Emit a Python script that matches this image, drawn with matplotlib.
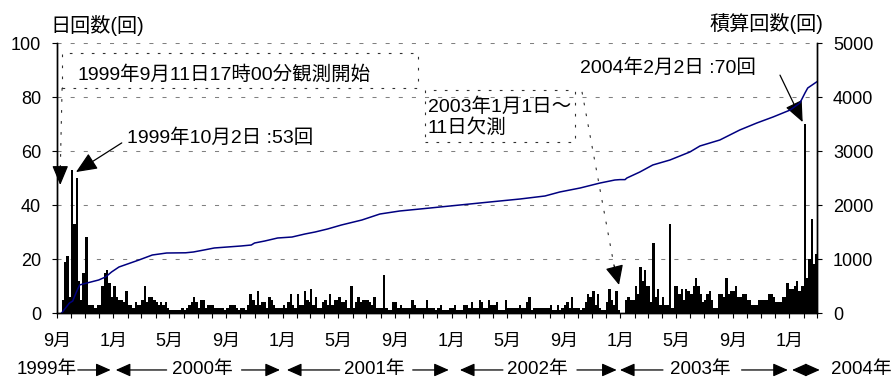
import datetime as dt
import matplotlib
matplotlib.use('Agg')
import matplotlib.pyplot as plt
import matplotlib.dates as mdates
from matplotlib.patches import Rectangle

plt.rcParams['font.family'] = ['Liberation Sans', 'Noto Sans CJK JP']


def d(y, m, day):
    return mdates.date2num(dt.date(y, m, day))


# daily counts, one value per 5-day bin (1-5, 6-10, 11-15, 16-20, 21-25, 26-end)
counts_1999 = [  # Sep - Dec
    0, 0, 5, 19, 21, 6,
    53, 33, 50, 12, 5, 15,
    28, 3, 3, 3, 2, 3,
    3, 10, 15, 16, 11, 6,
]
counts_2000 = [
    10, 6, 5, 5, 4, 8,
    3, 3, 2, 4, 3, 3,
    5, 10, 4, 6, 6, 5,
    4, 3, 4, 3, 4, 2,
    1, 1, 1, 1, 1, 2,
    1, 2, 3, 4, 6, 4,
    2, 5, 5, 2, 3, 3,
    3, 2, 2, 2, 2, 1,
    2, 3, 3, 3, 2, 1,
    2, 2, 1, 3, 7, 5,
    3, 8, 3, 4, 4, 2,
    6, 5, 3, 2, 2, 2,
]
counts_2001 = [
    3, 2, 4, 7, 3, 2,
    7, 3, 3, 8, 5, 4,
    9, 3, 6, 2, 2, 4,
    5, 3, 7, 3, 5, 5,
    6, 4, 4, 5, 2, 10,
    2, 4, 6, 4, 5, 5,
    5, 4, 3, 6, 2, 2,
    2, 14, 2, 1, 1, 4,
    4, 2, 3, 2, 2, 2,
    2, 5, 3, 2, 2, 2,
    2, 5, 2, 2, 2, 1,
    2, 3, 1, 1, 1, 2,
]
counts_2002 = [
    2, 3, 1, 1, 1, 3,
    3, 2, 4, 2, 2, 2,
    5, 4, 2, 2, 5, 3,
    3, 4, 1, 1, 1, 5,
    2, 2, 2, 2, 2, 3,
    2, 2, 4, 6, 1, 2,
    2, 2, 2, 2, 2, 2,
    3, 1, 1, 3, 1, 2,
    3, 4, 2, 6, 2, 2,
    2, 1, 2, 4, 7, 6,
    8, 3, 7, 2, 1, 1,
    4, 9, 5, 3, 8, 1,
]
counts_2003 = [
    0, 0, 5, 6, 5, 5,
    10, 7, 17, 12, 16, 10,
    10, 4, 26, 6, 9, 3,
    6, 3, 3, 33, 2, 10,
    10, 7, 9, 5, 9, 8,
    7, 10, 13, 10, 7, 4,
    5, 7, 8, 5, 2, 2,
    7, 7, 6, 13, 7, 8,
    8, 10, 6, 6, 7, 7,
    5, 5, 3, 3, 3, 5,
    5, 5, 5, 7, 7, 6,
    4, 4, 4, 6, 6, 11,
]
counts_2004 = [  # Jan - Feb
    9, 9, 10, 12, 8, 10,
    70, 13, 20, 35, 18, 22,
]
count_series = [(1999, 9, counts_1999), (2000, 1, counts_2000), (2001, 1, counts_2001),
                (2002, 1, counts_2002), (2003, 1, counts_2003), (2004, 1, counts_2004)]

# running total
cum_dates = ['1999-09-11', '1999-09-28', '1999-10-05', '1999-10-13', '1999-10-20', '1999-11-05',
             '1999-11-30', '1999-12-15', '1999-12-28', '2000-01-13', '2000-02-25', '2000-03-25',
             '2000-04-25', '2000-06-05', '2000-06-22', '2000-07-15', '2000-08-06', '2000-09-03',
             '2000-10-03', '2000-10-25', '2000-11-01', '2000-11-23', '2000-12-21', '2001-01-21',
             '2001-02-18', '2001-03-12', '2001-04-08', '2001-05-08', '2001-06-21', '2001-07-30',
             '2001-09-11', '2001-11-15', '2002-01-19', '2002-03-25', '2002-05-29', '2002-07-22',
             '2002-08-23', '2002-10-06', '2002-11-18', '2002-12-20', '2002-12-31', '2003-01-11',
             '2003-01-15', '2003-02-12', '2003-03-12', '2003-04-18', '2003-05-31', '2003-06-22',
             '2003-08-04', '2003-09-16', '2003-10-23', '2003-11-27', '2004-01-03', '2004-01-24',
             '2004-02-04', '2004-02-10', '2004-02-29']
cum_values = [0, 185, 222, 389, 520, 556,
              611, 667, 760, 852, 981, 1074,
              1111, 1115, 1130, 1167, 1204, 1222,
              1241, 1259, 1296, 1333, 1389, 1407,
              1463, 1500, 1556, 1630, 1722, 1833,
              1889, 1944, 2000, 2056, 2111, 2167,
              2241, 2315, 2407, 2463, 2470, 2470,
              2500, 2611, 2741, 2833, 2981, 3093,
              3204, 3389, 3519, 3630, 3759, 3889,
              4074, 4167, 4278]

year_labels = ['1999年', '2000年', '2001年', '2002年', '2003年', '2004年']
year_label_dates = [d(1999, 8, 9), d(2000, 7, 11), d(2001, 7, 19),
                    d(2002, 7, 5), d(2003, 6, 23), d(2004, 6, 4)]
# (tail, tip) of the arrows marking each year's span
year_arrows = [(d(1999, 10, 16), d(1999, 12, 26)),
               (d(2000, 4, 25), d(2000, 1, 6)), (d(2000, 10, 4), d(2000, 12, 26)),
               (d(2001, 5, 4), d(2001, 1, 10)), (d(2001, 10, 9), d(2001, 12, 26)),
               (d(2002, 4, 22), d(2002, 1, 19)), (d(2002, 9, 29), d(2002, 12, 24)),
               (d(2003, 4, 3), d(2002, 12, 31)), (d(2003, 9, 20), d(2003, 12, 29))]

# bar centers / widths from the bins
bar_x, bar_w, bar_h = [], [], []
for year, first_month, vals in count_series:
    for k, v in enumerate(vals):
        month = first_month + k // 6
        b = k % 6
        start = dt.date(year, month, 1 + 5 * b)
        if b < 5:
            end = dt.date(year, month, 6 + 5 * b)
        else:
            end = dt.date(year + month // 12, month % 12 + 1, 1)
        w = (end - start).days
        bar_x.append(mdates.date2num(start) + w / 2)
        bar_w.append(w)
        bar_h.append(v)

fig = plt.figure(figsize=(8.93, 3.78), dpi=100)
ax = fig.add_axes([57 / 893, 65 / 378, 760 / 893, 270 / 378])
ax2 = ax.twinx()

ax.bar(bar_x, bar_h, width=bar_w, color='black', linewidth=0, zorder=2)
ax2.plot(mdates.datestr2num(cum_dates), cum_values, color='#000080', lw=1.1)

ax.set_xlim(d(1999, 9, 1), d(2004, 3, 1))
ax.set_ylim(0, 100)
ax2.set_ylim(0, 5000)
ax.set_yticks(range(0, 101, 20))
ax2.set_yticks(range(0, 5001, 1000))
ax.yaxis.grid(True, color='#808080', linestyle=(0, (3.9, 8.7)), lw=0.75, zorder=0)
ax.set_axisbelow(True)

month_ticks, month_labels = [], []
for i in range(55):
    y, m = 1999 + (8 + i) // 12, (8 + i) % 12 + 1
    month_ticks.append(d(y, m, 1))
    month_labels.append(f'{m}月' if m in (9, 1, 5) else '')
ax.set_xticks(month_ticks)
ax.set_xticklabels(month_labels)

for a in (ax, ax2):
    a.spines['top'].set_visible(False)
    for s in ('left', 'right', 'bottom'):
        a.spines[s].set_linewidth(1.0)
ax.tick_params(axis='y', direction='out', length=3.5, width=0.8, labelsize=13, pad=8)
ax2.tick_params(axis='y', direction='out', length=3.5, width=0.8, labelsize=13, pad=8)
ax.tick_params(axis='x', direction='out', length=3.5, width=0.8, labelsize=13, pad=11)

fig.text(50 / 893, 1 - 25 / 378, '日回数(回)', fontsize=14.5, ha='left', va='center')
fig.text(823 / 893, 1 - 23 / 378, '積算回数(回)', fontsize=14.5, ha='right', va='center')

# year row under the month labels
row_y = -0.211
for lab, x in zip(year_labels, year_label_dates):
    ax.text(x, row_y, lab, transform=ax.get_xaxis_transform(), fontsize=13.5,
            ha='center', va='center', clip_on=False)
arrow_kw = dict(arrowstyle='-|>,head_length=0.45,head_width=0.2', color='black',
                lw=0.9, mutation_scale=20, shrinkA=0, shrinkB=0)
for tail, tip in year_arrows:
    ax.annotate('', xy=(tip, row_y), xytext=(tail, row_y), xycoords=('data', 'axes fraction'),
                arrowprops=arrow_kw, annotation_clip=False)
ax.annotate('', xy=(d(2004, 3, 7), row_y), xytext=(d(2004, 1, 7), row_y),
            xycoords=('data', 'axes fraction'), annotation_clip=False,
            arrowprops=dict(arrow_kw, arrowstyle='<|-|>,head_length=0.45,head_width=0.2'))

# callouts
dot_kw = dict(color='#303030', lw=0.8, linestyle=(0, (2.4, 7.5)))
box1 = Rectangle((d(1999, 9, 12), 83.3), d(2001, 10, 20) - d(1999, 9, 12), 13.0,
                 fill=False, edgecolor='#303030', lw=0.8, linestyle=(0, (2.4, 7.5)), zorder=3)
ax.add_patch(box1)
ax.text(d(1999, 10, 16), 88.1, '1999年9月11日17時00分観測開始', fontsize=14, ha='left', va='center')
ax.plot([d(1999, 9, 12), d(1999, 9, 8)], [83.3, 52.5], **dot_kw)
ax.annotate('', xy=(d(1999, 9, 8), 47.4), xytext=(d(1999, 9, 8), 52.5),
            arrowprops=dict(arrow_kw, arrowstyle='-|>,head_length=0.6,head_width=0.25'))

box2 = Rectangle((d(2001, 11, 4), 63.3), d(2002, 9, 25) - d(2001, 11, 4), 19.3,
                 fill=False, edgecolor='#303030', lw=0.8, linestyle=(0, (2.4, 7.5)), zorder=3)
ax.add_patch(box2)
ax.text(d(2001, 11, 11), 72.6, '2003年1月1日～\n11日欠測', fontsize=14, ha='left', va='center',
        linespacing=1.15)
ax.plot([d(2002, 10, 10), d(2002, 12, 18)], [81.9, 17.8], **dot_kw)
ax.annotate('', xy=(d(2002, 12, 29), 10.4), xytext=(d(2002, 12, 18), 17.8),
            arrowprops=dict(arrow_kw, arrowstyle='-|>,head_length=0.6,head_width=0.28'))

ax.text(d(2000, 1, 30), 64.8, '1999年10月2日 :53回', fontsize=14, ha='left', va='center')
ax.annotate('', xy=(d(1999, 10, 12), 52.2), xytext=(d(2000, 1, 19), 63.0),
            arrowprops=dict(arrow_kw, arrowstyle='-|>,head_length=0.65,head_width=0.28'))

ax.text(d(2002, 10, 5), 90.7, '2004年2月2日 :70回', fontsize=14, ha='left', va='center')
ax.annotate('', xy=(d(2004, 1, 30), 70.7), xytext=(d(2003, 12, 12), 88.1),
            arrowprops=dict(arrow_kw, arrowstyle='-|>,head_length=0.65,head_width=0.28'))

fig.savefig('out.png', dpi=100)
